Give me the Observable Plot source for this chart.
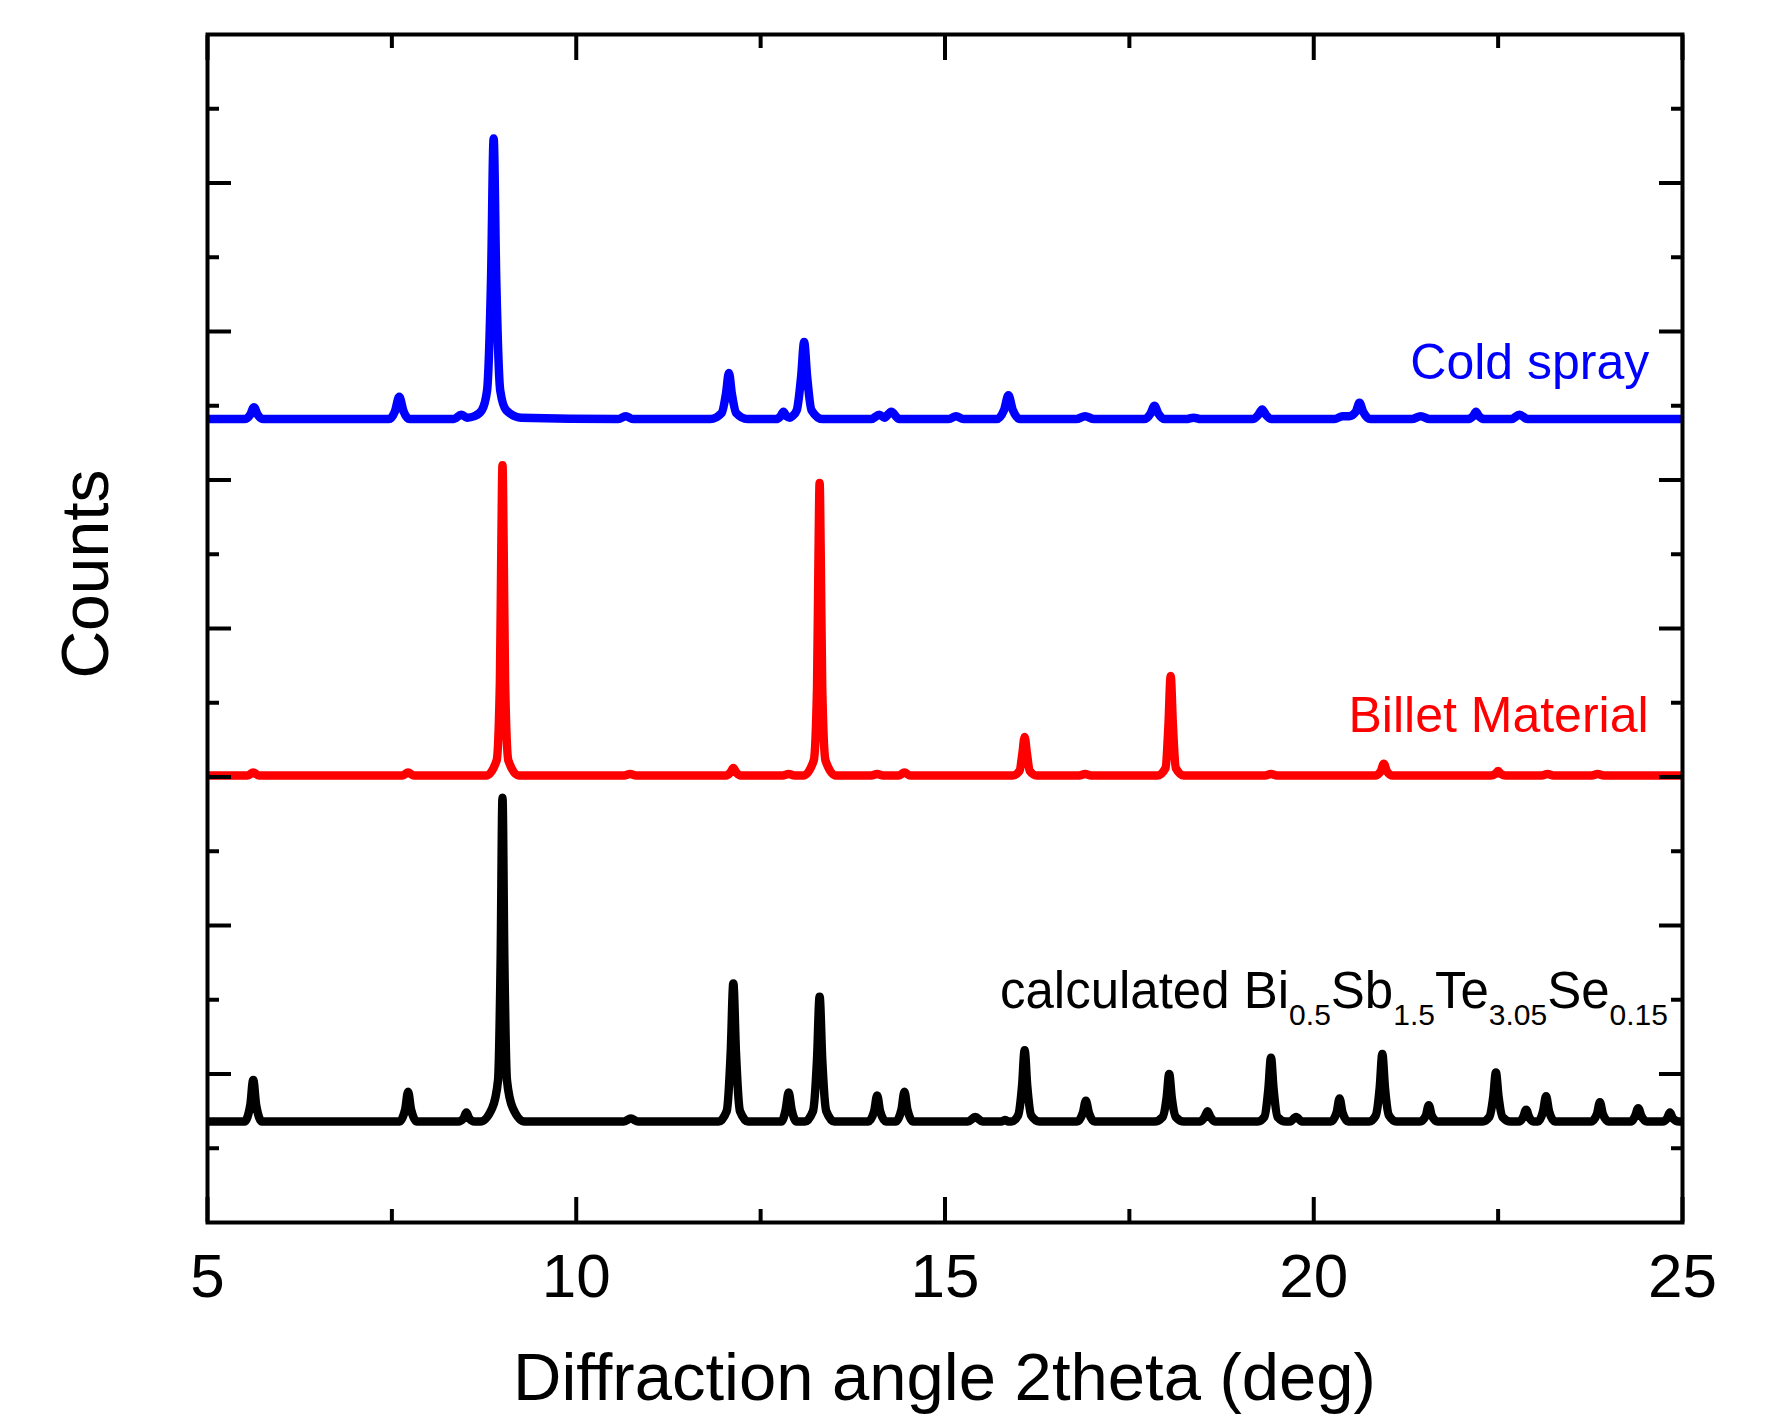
<!DOCTYPE html>
<html><head><meta charset="utf-8">
<script src="https://cdn.jsdelivr.net/npm/d3@7"></script>
<script src="https://cdn.jsdelivr.net/npm/@observablehq/plot@0.6"></script>
<style>body{margin:0;background:#fff}</style>
</head><body><div id="chart"></div>
<script>
// ---- data: [2theta (deg), counts (arbitrary, stacked offsets)] ----
const coldSpray = [
  [5.0,5.41],[5.50,5.41],[5.58,5.44],[5.63,5.49],[5.68,5.44],[5.76,5.41],
  [7.46,5.41],[7.54,5.46],[7.60,5.56],[7.66,5.46],[7.74,5.41],
  [8.34,5.41],[8.44,5.44],[8.52,5.42],
  [8.62,5.43],[8.72,5.47],[8.79,5.60],[8.845,6.36],[8.88,7.30],[8.915,6.36],[8.97,5.60],[9.05,5.47],[9.25,5.42],
  [10.57,5.41],[10.67,5.43],[10.77,5.41],
  [11.82,5.41],[11.97,5.45],[12.03,5.58],[12.07,5.72],[12.11,5.58],[12.17,5.45],[12.32,5.41],
  [12.71,5.41],[12.77,5.43],[12.81,5.46],[12.85,5.43],[12.90,5.42],
  [12.93,5.43],[12.99,5.47],[13.05,5.70],[13.09,5.93],[13.13,5.70],[13.19,5.47],[13.34,5.41],
  [14.00,5.41],[14.11,5.44],[14.18,5.42],[14.27,5.46],[14.38,5.41],
  [15.05,5.41],[15.15,5.43],[15.25,5.41],
  [15.70,5.41],[15.80,5.47],[15.86,5.57],[15.92,5.47],[16.02,5.41],
  [16.78,5.41],[16.90,5.43],[17.02,5.41],
  [17.70,5.41],[17.79,5.45],[17.84,5.50],[17.89,5.45],[17.98,5.41],
  [18.27,5.41],[18.37,5.42],[18.47,5.41],
  [19.17,5.41],[19.25,5.44],[19.30,5.475],[19.35,5.44],[19.43,5.41],
  [20.28,5.41],[20.39,5.43],[20.48,5.43],[20.57,5.46],[20.62,5.52],[20.67,5.46],[20.77,5.41],
  [21.33,5.41],[21.45,5.43],[21.57,5.41],
  [22.08,5.41],[22.16,5.43],[22.20,5.46],[22.24,5.43],[22.32,5.41],
  [22.68,5.41],[22.79,5.44],[22.90,5.41],
  [25.0,5.41]
];
const billet = [
  [5.0,3.01],[5.54,3.01],[5.62,3.03],[5.70,3.01],
  [7.64,3.01],[7.72,3.03],[7.80,3.01],
  [8.78,3.01],[8.92,3.11],[8.965,3.64],[8.985,4.58],[9.00,5.10],[9.015,4.58],[9.035,3.64],[9.08,3.11],[9.22,3.01],
  [10.65,3.01],[10.73,3.02],[10.81,3.01],
  [12.03,3.01],[12.09,3.03],[12.13,3.06],[12.17,3.03],[12.23,3.01],
  [12.80,3.01],[12.88,3.02],[12.96,3.01],
  [13.08,3.01],[13.22,3.11],[13.265,3.60],[13.285,4.49],[13.30,4.98],[13.315,4.49],[13.335,3.60],[13.38,3.11],[13.52,3.01],
  [14.00,3.01],[14.08,3.02],[14.16,3.01],
  [14.37,3.01],[14.45,3.03],[14.53,3.01],
  [15.92,3.01],[16.01,3.04],[16.05,3.16],[16.08,3.27],[16.11,3.16],[16.15,3.04],[16.24,3.01],
  [16.82,3.01],[16.90,3.02],[16.98,3.01],
  [17.88,3.01],[17.99,3.06],[18.03,3.35],[18.06,3.68],[18.09,3.35],[18.13,3.06],[18.24,3.01],
  [19.34,3.01],[19.42,3.02],[19.50,3.01],
  [20.83,3.01],[20.91,3.04],[20.95,3.09],[20.99,3.04],[21.07,3.01],
  [22.40,3.01],[22.46,3.02],[22.50,3.04],[22.54,3.02],[22.60,3.01],
  [23.09,3.01],[23.17,3.02],[23.25,3.01],
  [23.77,3.01],[23.85,3.02],[23.93,3.01],
  [25.0,3.01]
];
const calculated = [
  [5.0,0.68],[5.50,0.68],[5.58,0.79],[5.62,0.96],[5.66,0.79],[5.74,0.68],
  [7.60,0.68],[7.68,0.76],[7.72,0.88],[7.76,0.76],[7.84,0.68],
  [8.40,0.68],[8.47,0.70],[8.51,0.74],[8.55,0.70],[8.62,0.68],
  [8.70,0.68],[8.86,0.77],[8.94,0.96],[8.975,1.77],[9.00,2.86],[9.025,1.77],[9.06,0.96],[9.14,0.77],[9.30,0.68],
  [10.64,0.68],[10.74,0.70],[10.84,0.68],
  [11.93,0.68],[12.04,0.75],[12.095,1.15],[12.13,1.61],[12.165,1.15],[12.22,0.75],[12.33,0.68],
  [12.78,0.68],[12.84,0.76],[12.88,0.875],[12.92,0.76],[12.99,0.68],
  [13.10,0.68],[13.21,0.75],[13.265,1.10],[13.30,1.52],[13.335,1.10],[13.39,0.75],[13.50,0.68],
  [13.96,0.68],[14.04,0.75],[14.08,0.855],[14.12,0.75],[14.20,0.68],
  [14.33,0.68],[14.41,0.76],[14.45,0.88],[14.49,0.76],[14.57,0.68],
  [15.31,0.68],[15.41,0.71],[15.51,0.68],
  [15.76,0.68],[15.82,0.69],[15.86,0.68],
  [15.90,0.68],[15.99,0.72],[16.045,0.92],[16.08,1.16],[16.115,0.92],[16.17,0.72],[16.28,0.68],
  [16.79,0.68],[16.87,0.74],[16.91,0.82],[16.95,0.74],[17.03,0.68],
  [17.84,0.68],[17.95,0.71],[18.005,0.84],[18.04,1.00],[18.075,0.84],[18.13,0.71],[18.24,0.68],
  [18.46,0.68],[18.52,0.71],[18.56,0.75],[18.60,0.71],[18.66,0.68],
  [19.24,0.68],[19.33,0.71],[19.385,0.90],[19.42,1.11],[19.455,0.90],[19.51,0.71],[19.62,0.68],
  [19.68,0.68],[19.76,0.71],[19.84,0.68],
  [20.23,0.68],[20.31,0.74],[20.35,0.835],[20.39,0.74],[20.47,0.68],
  [20.75,0.68],[20.84,0.72],[20.895,0.91],[20.93,1.135],[20.965,0.91],[21.02,0.72],[21.12,0.68],
  [21.44,0.68],[21.52,0.72],[21.56,0.79],[21.60,0.72],[21.68,0.68],
  [22.29,0.68],[22.38,0.71],[22.435,0.85],[22.47,1.01],[22.505,0.85],[22.56,0.71],[22.67,0.68],
  [22.78,0.68],[22.84,0.71],[22.88,0.76],[22.92,0.71],[22.98,0.68],
  [23.04,0.68],[23.11,0.75],[23.15,0.85],[23.19,0.75],[23.27,0.68],
  [23.76,0.68],[23.84,0.73],[23.88,0.81],[23.92,0.73],[24.00,0.68],
  [24.30,0.68],[24.36,0.72],[24.40,0.77],[24.44,0.72],[24.52,0.68],
  [24.73,0.68],[24.79,0.70],[24.83,0.74],[24.87,0.70],[24.95,0.68],
  [25.0,0.68]
];
const xMajor = [5, 10, 15, 20, 25];
const xMinor = [7.5, 12.5, 17.5, 22.5];
const yMajor = [1, 2, 3, 4, 5, 6, 7];
const yMinor = [0.5, 1.5, 2.5, 3.5, 4.5, 5.5, 6.5, 7.5];
const xTitle = "Diffraction angle 2theta (deg)";
const yTitle = "Counts";
const coldLabel = ["Cold spray"], coldLabelX = [24.55], coldLabelY = [5.68];
const billetLabel = ["Billet Material"], billetLabelX = [24.54], billetLabelY = [3.30];
const calcParts = [["calculated Bi", false], ["0.5", true], ["Sb", false], ["1.5", true], ["Te", false], ["3.05", true], ["Se", false], ["0.15", true]];
const calcLabelX = 24.81, calcLabelY = 1.44;

const toObj = a => a.map(([x, y]) => ({x, y}));
const FONT = "'Liberation Sans', Arial, Helvetica, sans-serif";
const tk = {strokeWidth: 4, tickFormat: () => "", label: null};
const LW = 8.5;

const plot = Plot.plot({
  width: 1769, height: 1420,
  marginTop: 34, marginRight: 87, marginBottom: 198, marginLeft: 207,
  style: {fontFamily: FONT, background: "#fff", color: "#000"},
  x: {domain: [5, 25]},
  y: {domain: [0, 8]},
  marks: [
    Plot.line(toObj(calculated), {x: "x", y: "y", stroke: "#000", strokeWidth: LW, curve: "monotone-x", clip: true}),
    Plot.line(toObj(billet), {x: "x", y: "y", stroke: "#ff0000", strokeWidth: LW, curve: "monotone-x", clip: true}),
    Plot.line(toObj(coldSpray), {x: "x", y: "y", stroke: "#0000ff", strokeWidth: LW, curve: "monotone-x", clip: true}),
    Plot.axisX(xMajor, {anchor: "bottom", tickSize: -25, ...tk}),
    Plot.axisX(xMinor, {anchor: "bottom", tickSize: -13, ...tk}),
    Plot.axisX(xMajor, {anchor: "top", tickSize: -25, ...tk}),
    Plot.axisX(xMinor, {anchor: "top", tickSize: -13, ...tk}),
    Plot.axisY(yMajor, {anchor: "left", tickSize: -24, ...tk}),
    Plot.axisY(yMinor, {anchor: "left", tickSize: -12, ...tk}),
    Plot.axisY(yMajor, {anchor: "right", tickSize: -24, ...tk}),
    Plot.axisY(yMinor, {anchor: "right", tickSize: -12, ...tk}),
    Plot.axisX(xMajor, {anchor: "bottom", tickSize: 0, tickPadding: 30, fontSize: 62, label: null}),
    Plot.frame({strokeWidth: 4}),
    Plot.text(coldLabel, {x: coldLabelX, y: coldLabelY, text: d => d, fill: "#0000ff", fontSize: 50, textAnchor: "end", lineAnchor: "bottom"}),
    Plot.text(billetLabel, {x: billetLabelX, y: billetLabelY, text: d => d, fill: "#ff0000", fontSize: 50, textAnchor: "end", lineAnchor: "bottom"})
  ]
});
document.getElementById("chart").appendChild(plot);

const sx = plot.scale("x"), sy = plot.scale("y");
const svg = d3.select(plot);
svg.append("text")
  .attr("x", (sx.apply(5) + sx.apply(25)) / 2).attr("y", 1400)
  .attr("text-anchor", "middle").attr("font-size", 67).attr("font-family", FONT).attr("fill", "#000")
  .text(xTitle);
svg.append("text")
  .attr("transform", `translate(108,${(sy.apply(0) + sy.apply(8)) / 2 - 54}) rotate(-90)`)
  .attr("text-anchor", "middle").attr("font-size", 66).attr("font-family", FONT).attr("fill", "#000")
  .text(yTitle);
const ct = svg.append("text")
  .attr("x", sx.apply(calcLabelX)).attr("y", sy.apply(calcLabelY))
  .attr("text-anchor", "end").attr("font-size", 51).attr("font-family", FONT).attr("fill", "#000");
let low = false;
for (const [s, sub] of calcParts) {
  const dy = sub && !low ? 17 : (!sub && low ? -17 : 0);
  ct.append("tspan").attr("dy", dy).attr("font-size", sub ? 30 : 51).text(s);
  low = sub;
}
</script>
</body></html>
